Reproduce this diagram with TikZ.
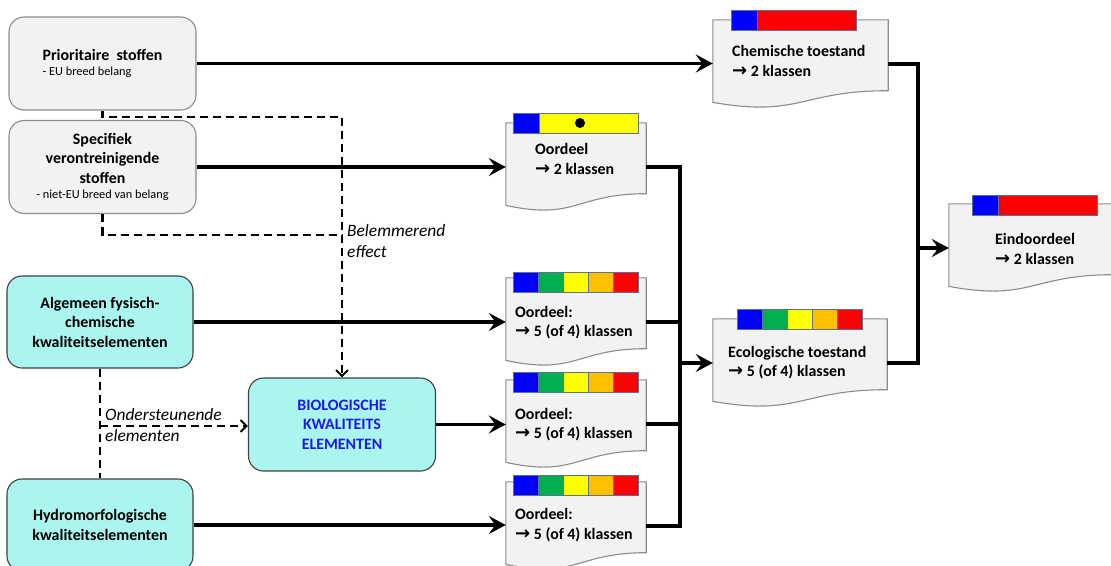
\documentclass[tikz,border=0pt]{standalone}
\usepackage{fontspec}
\setmainfont{Carlito}
\newfontfamily\dejavu{DejaVu Sans}
\usetikzlibrary{arrows.meta,calc}

\definecolor{boxgray}{HTML}{F2F2F2}
\definecolor{edgegray}{HTML}{8C8C8C}
\definecolor{cyanfill}{HTML}{ABF5EF}
\definecolor{cyanedge}{HTML}{404040}
\definecolor{cblue}{HTML}{0000FF}
\definecolor{cgreen}{HTML}{00B050}
\definecolor{cyellow}{HTML}{FFFF00}
\definecolor{corange}{HTML}{FFC000}
\definecolor{cred}{HTML}{FF0000}
\definecolor{baredge}{HTML}{5F6F8F}
\definecolor{biotext}{HTML}{1A1AF0}

\newcommand{\bigfnt}{\fontsize{15.9}{19.5}\selectfont}
\newcommand{\smallfnt}{\fontsize{12.3}{14}\selectfont}
\newcommand{\notefnt}{\fontsize{17.4}{21.5}\selectfont}
\newcommand{\ra}{{\dejavu\bfseries\fontsize{18}{19.5}\selectfont\symbol{"2192}}}

\newcommand{\docoutline}[1]{%
  \filldraw[draw=edgegray, fill=boxgray, line width=1.1pt]
  (#1.north west) -- (#1.north east) -- ($(#1.north east)!0.802!(#1.south east)$)
  .. controls ($(#1.north)!0.802!(#1.south)$) and ($(#1.north)!1.107!(#1.south)$) ..
  ($(#1.north west)!0.934!(#1.south west)$) -- cycle;}

\newcommand{\twobar}[3]{%
  \filldraw[fill=cblue, draw=baredge, line width=0.7pt] (#1,#2) rectangle ++(26,20);
  \filldraw[fill=#3, draw=baredge, line width=0.7pt] (#1+26,#2) rectangle ++(99,20);}
\newcommand{\fivebar}[2]{%
  \foreach \c [count=\i from 0] in {cblue,cgreen,cyellow,corange,cred}
    {\filldraw[fill=\c, draw=baredge, line width=0.7pt] (#1+25*\i,#2) rectangle ++(25,20);}}

\begin{document}
\begin{tikzpicture}[x=1pt, y=-1pt,
  graybox/.style={draw=edgegray, fill=boxgray, line width=1.1pt, rounded corners=15pt,
    minimum width=187pt, minimum height=93pt, inner sep=0pt, align=center, font=\bigfnt\bfseries},
  cyanbox/.style={draw=cyanedge, fill=cyanfill, line width=1.1pt, rounded corners=15pt,
    minimum width=186pt, minimum height=92pt, inner sep=0pt, align=center, font=\bigfnt\bfseries},
  docnode/.style={draw=none, inner sep=0pt, minimum height=88pt},
  doctext/.style={anchor=west, align=left, font=\bigfnt\bfseries, inner sep=0pt},
  link/.style={line width=3.6pt},
  flow/.style={line width=3.6pt, -{Stealth[length=17pt,width=18pt,inset=6.5pt]}},
  dashline/.style={line width=2.2pt, dash pattern=on 8pt off 5pt},
  dasharrow/.style={dashline, -{Straight Barb[length=6pt,width=12pt,line width=2pt]}},
  note/.style={font=\notefnt\itshape, align=left, anchor=west, inner sep=0pt}]

\fill[white] (0,0) rectangle (1111,565);
\clip (0,0) rectangle (1111,565);
\useasboundingbox (0,0) rectangle (1111,565);

% left boxes
\node[graybox, align=left] (pri) at (102.5,63.5) {Prioritaire\ \ stoffen\\[-4pt]{\smallfnt\mdseries - EU breed belang}};
\node[graybox] (spe) at (102.5,167) {Specifiek\\verontreinigende\\stoffen\\[-4pt]{\smallfnt\mdseries - niet-EU breed van belang}};
\node[cyanbox] (alg) at (100,322) {Algemeen fysisch-\\chemische\\kwaliteitselementen};
\node[cyanbox] (hyd) at (100,525) {Hydromorfologische\\kwaliteitselementen};
\node[cyanbox, minimum width=187pt, minimum height=93pt, text=biotext] (bio) at (342,424.5) {BIOLOGISCHE\\KWALITEITS\\ELEMENTEN};

% document nodes
\node[docnode, minimum width=175pt] (chem) at (800.5,64) {};
\node[docnode, minimum width=140pt] (oord1) at (576,167) {};
\node[docnode, minimum width=140pt] (oord2) at (576,322) {};
\node[docnode, minimum width=140pt] (oord3) at (576,424) {};
\node[docnode, minimum width=140pt] (oord4) at (576,526) {};
\node[docnode, minimum width=174pt] (eco) at (800,363) {};
\node[docnode, minimum width=164pt] (eind) at (1031,248) {};

\docoutline{chem}
\docoutline{oord1}
\docoutline{oord2}
\docoutline{oord3}
\docoutline{oord4}
\docoutline{eco}
\docoutline{eind}

% bars
\twobar{731}{10}{cred}
\twobar{513}{113}{cyellow}
\fill (580,123) circle (5pt);
\twobar{972}{195}{cred}
\fivebar{513}{272}
\fivebar{513}{372}
\fivebar{513}{475}
\fivebar{737}{309}

% texts in documents
\node[doctext] (chemT) at (732,61) {Chemische toestand\\\ra{} 2 klassen};
\node[doctext] (o1T) at (535,159) {Oordeel\\\ra{} 2 klassen};
\node[doctext] (o2T) at (515,322.5) {Oordeel:\\\ra{} 5 (of 4) klassen};
\node[doctext] (o3T) at (515,424.5) {Oordeel:\\\ra{} 5 (of 4) klassen};
\node[doctext] (o4T) at (515,525) {Oordeel:\\\ra{} 5 (of 4) klassen};
\node[doctext] (ecoT) at (728,362.5) {Ecologische toestand\\\ra{} 5 (of 4) klassen};
\node[doctext] (eindT) at (995,249) {Eindoordeel\\\ra{} 2 klassen};

% dashed connectors
\coordinate (d1) at (102.5,117);
\coordinate (d2) at (342,117);
\coordinate (d3) at (102.5,235);
\coordinate (d4) at (342,235);
\coordinate (d5) at (100,426);
\draw[dashline] (spe.south) -- (d3) -- (d4);
\draw[dasharrow] (pri.south) -- (d1) -- (d2) -- (bio.north);
\draw[dashline] (alg.south) -- (hyd.north);
\draw[dasharrow] (d5) -- (d5 -| bio.west);
\node[note] (bel) at (347,241) {Belemmerend\\effect};
\node[note] (ond) at (105,425) {Ondersteunende\\elementen};

% solid connectors
\draw[flow] (pri.east) -- (pri.east -| chem.west);
\draw[flow] (spe.east) -- (spe.east -| oord1.west);
\draw[flow] (alg.east) -- (alg.east -| oord2.west);
\draw[flow] (bio.east) -- (bio.east -| oord3.west);
\draw[flow] (hyd.east) -- (hyd.east -| oord4.west);

\coordinate (j1) at (680,363);
\draw[link] (oord1.east) -- (oord1.east -| j1) -- (oord4.east -| j1) -- (oord4.east);
\draw[link] (oord2.east) -- (oord2.east -| j1);
\draw[link] (oord3.east) -- (oord3.east -| j1);
\draw[flow] (j1) -- (j1 -| eco.west);

\coordinate (j2) at (918,248);
\draw[link] (chem.east) -- (chem.east -| j2) -- (eco.east -| j2) -- (eco.east);
\draw[flow] (j2) -- (j2 -| eind.west);
\end{tikzpicture}
\end{document}
